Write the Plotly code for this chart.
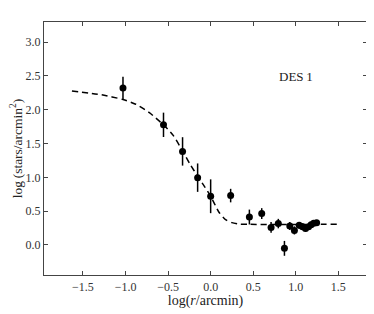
import plotly.graph_objects as go

# data points
log_r = [-1.03, -0.554, -0.33, -0.153, 0.0, 0.235, 0.455, 0.60, 0.71, 0.795,
         0.867, 0.93, 0.984, 1.04, 1.08, 1.115, 1.15, 1.18, 1.21, 1.245]
log_sigma = [2.32, 1.776, 1.383, 0.995, 0.72, 0.73, 0.413, 0.464, 0.26, 0.316,
             -0.05, 0.28, 0.215, 0.29, 0.27, 0.245, 0.27, 0.30, 0.32, 0.33]
sigma_err = [0.165, 0.18, 0.21, 0.21, 0.25, 0.10, 0.11, 0.08, 0.08, 0.07,
             0.11, 0.06, 0.06, 0.05, 0.05, 0.05, 0.04, 0.04, 0.04, 0.03]

# model curve
curve_x = [-1.63, -1.28, -1.03, -0.88, -0.72, -0.554, -0.44, -0.33, -0.24, -0.15,
           -0.07, 0.0, 0.1, 0.18, 0.25, 0.33, 0.45, 1.5]
curve_y = [2.275, 2.22, 2.15, 2.08, 1.955, 1.776, 1.62, 1.39, 1.19, 1.01,
           0.86, 0.72, 0.48, 0.37, 0.33, 0.31, 0.305, 0.305]

x_ticks = [-1.5, -1.0, -0.5, 0.0, 0.5, 1.0, 1.5]
y_ticks = [0.0, 0.5, 1.0, 1.5, 2.0, 2.5, 3.0]

FONT = "Liberation Serif"

fig = go.Figure()
fig.add_trace(go.Scatter(
    x=curve_x, y=curve_y, mode="lines",
    line=dict(color="black", width=1.5, dash="6px,4px", shape="spline", smoothing=0.6),
    hoverinfo="skip", showlegend=False))
fig.add_trace(go.Scatter(
    x=log_r, y=log_sigma, mode="markers",
    marker=dict(color="black", size=7),
    error_y=dict(type="data", array=sigma_err, visible=True, color="black",
                 thickness=1.5, width=0),
    showlegend=False))

fig.add_annotation(x=1.0, y=2.49, text="DES\u20091", showarrow=False,
                   font=dict(family=FONT, size=13, color="#222"))

axis_common = dict(showgrid=False, zeroline=False, showline=True, mirror="ticks",
                   linecolor="#444", linewidth=1.2, ticks="inside", ticklen=4,
                   tickcolor="#444", tickwidth=1, automargin=False,
                   tickfont=dict(family=FONT, size=12, color="#333"))

# page body has an 8px default margin, so the figure is sized/offset to compensate
fig.update_layout(
    width=366, height=306,
    margin=dict(l=36, r=7, t=14, b=39),
    paper_bgcolor="white", plot_bgcolor="white",
    xaxis=dict(range=[-1.958, 1.837], tickvals=x_ticks,
               ticktext=[("\u2212" if v < 0 else "") + f"{abs(v):.1f}" for v in x_ticks],
               title=dict(text="log(<i>r</i>/arcmin)", standoff=2,
                          font=dict(family=FONT, size=14, color="#222")),
               **axis_common),
    yaxis=dict(range=[-0.444, 3.296], tickvals=y_ticks,
               ticktext=[f"{v:.1f}" for v in y_ticks],
               title=dict(text="log\u2009(stars/arcmin<sup>2</sup>)", standoff=5,
                          font=dict(family=FONT, size=13.5, color="#222")),
               **axis_common),
)

fig.write_html("out.html")
